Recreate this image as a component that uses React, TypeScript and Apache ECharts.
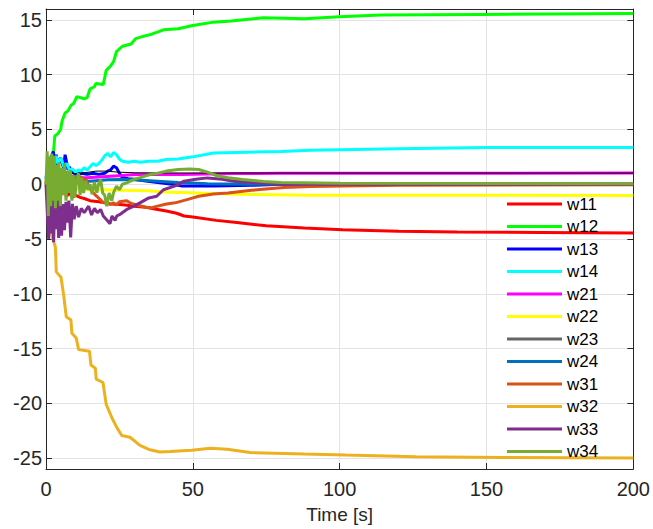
import React, { useEffect, useRef } from "react";
import * as echarts from "echarts";

const seriesNames = ["w11", "w12", "w13", "w14", "w21", "w22", "w23", "w24", "w31", "w32", "w33", "w34"];
const seriesColors = ["#ff0000", "#00ff00", "#0000ff", "#00ffff", "#ff00ff", "#ffff00", "#000000", "#0072bd", "#d95319", "#edb120", "#7e2f8e", "#77ac30"];

const xTicks = [0, 50, 100, 150, 200];
const yTicks = [-25, -20, -15, -10, -5, 0, 5, 10, 15];

const w11 = [[0,0],[1,-0.5],[2,-0.2],[3,-0.8],[4,-0.4],[5,-1.0],[6,-0.6],[7,-1.1],[8,-0.8],[9,-1.2],[10,-1.0],[11.6,-1.2],[13,-1.3],[15,-1.5],[18,-1.6],[20,-1.7],[22,-1.8],[24,-1.83],[27,-1.9],[30,-2.0],[34,-2.1],[38,-2.3],[41,-2.45],[44.5,-2.65],[47,-2.9],[50,-3.0],[58,-3.3],[65,-3.5],[75,-3.8],[88,-4.0],[101,-4.15],[120,-4.3],[140,-4.35],[168,-4.4],[200,-4.45]];
const w12 = [[0,0],[1,1.5],[2,2.5],[2.6,3.1],[3,4.4],[4,4.6],[5,5.0],[5.5,5.8],[6.5,6.5],[7.5,6.7],[8.5,7.2],[9.5,7.4],[10.5,8.0],[13,7.8],[14,7.9],[15,8.7],[16.5,8.9],[17,9.2],[19.5,9.1],[20.5,10.4],[22,10.8],[23,11.2],[24,12.1],[26,12.6],[29,12.8],[30.5,13.3],[33,13.5],[36,13.7],[40,14.1],[45,14.2],[50,14.5],[57,14.8],[63,14.9],[74,15.2],[88,15.1],[100,15.3],[114,15.45],[148,15.5],[200,15.6]];
const w13 = [[0,0.5],[0.5,1.2],[1,0.8],[1.5,2.0],[2,2.6],[2.5,3.0],[3,1.8],[3.5,2.7],[4,1.5],[4.5,2.2],[5,2.4],[5.5,1.9],[6,1.5],[6.5,2.7],[7,2.0],[7.5,1.3],[8,1.6],[8.5,1.0],[9,1.2],[10,0.9],[12,1.0],[14,0.9],[16,1.0],[18,0.9],[20,1.0],[21,1.2],[22,1.3],[23,1.65],[24,1.5],[25,1.0],[26,0.6],[28,0.5],[30,0.45],[34,0.3],[38,0.15],[43,0],[46,-0.15],[57,-0.15],[70,-0.1],[80,0],[200,0]];
const w14 = [[0,0.5],[0.5,1.5],[1,2.6],[1.5,1.8],[2,2.4],[2.5,1.2],[3,2.0],[3.5,2.6],[4,1.9],[5,2.4],[5.5,2.1],[6,1.6],[7,1.9],[8,1.3],[9,1.4],[10,1.1],[11,1.3],[12,1.2],[13,1.5],[14,1.3],[15,1.6],[16,1.9],[17,1.7],[18,1.9],[19,2.2],[20,2.6],[21,2.8],[22,2.5],[23,2.9],[24,2.7],[25,2.3],[26,2.1],[28,2.0],[30,2.1],[32,2.0],[35,2.1],[38,2.1],[41,2.25],[45,2.3],[50,2.5],[57,2.85],[65,2.9],[80,3.0],[90,3.1],[100,3.15],[120,3.25],[150,3.35],[200,3.35]];
const w21 = [[0,0.3],[2,0.5],[4,0.4],[6,0.6],[8,0.5],[10,0.6],[14,0.6],[18,0.65],[22,0.73],[26,0.8],[30,0.88],[40,0.9],[46,0.9],[64,0.97],[80,1.0],[200,1.02]];
const w22 = [[0,0],[2,-0.3],[5,-0.2],[10,-0.4],[15,-0.5],[19.6,-0.5],[25,-0.55],[35,-0.6],[40,-0.7],[52,-0.8],[69,-0.93],[90,-1.0],[200,-1.02]];
const w23 = [[0,0],[2,0.5],[4,0.8],[6,0.9],[8,0.95],[12,1.0],[17,1.2],[20,1.2],[25,1.1],[30,1.05],[40,1.03],[60,1.02],[200,1.02]];
const w24 = [[0,0.1],[1,0.3],[2,0.2],[4,0.5],[6,0.4],[8,0.6],[10,0.4],[12,0.3],[15,0.28],[18,0.35],[21,0.4],[25,0.43],[30,0.4],[38,0.28],[45,0.15],[55,0.05],[70,0],[200,0]];
const w31 = [[0,0],[0.5,1.5],[1,0.5],[1.5,1.9],[2,0.2],[2.5,1.0],[3,0.8],[3.5,-0.5],[4,0.9],[4.5,0.7],[5,1.0],[5.5,0.2],[6,1.0],[6.5,0.8],[7,-0.3],[7.5,0.9],[8,0.7],[8.5,-0.2],[9,0.8],[9.5,0.5],[10,0.7],[11,0.6],[12,0.7],[12.8,0.1],[13.5,0.5],[14.5,-0.2],[15.5,-0.6],[16.5,-0.9],[17.3,-1.1],[18.5,-1.4],[19.6,-1.7],[20.5,-1.6],[21.8,-1.85],[23,-1.7],[24,-1.9],[25,-1.6],[27.5,-1.5],[29,-1.75],[31,-1.9],[34,-2.1],[36,-2.15],[38,-2.0],[41,-1.8],[44,-1.7],[48,-1.4],[52,-1.1],[57,-0.9],[62,-0.8],[70,-0.55],[81,-0.3],[90,-0.2],[101,-0.15],[120,-0.1],[200,-0.05]];
const w32 = [[0,0],[1,-2],[2,-4.7],[3.2,-5.75],[3.5,-8.0],[5.1,-8.5],[6,-10.1],[6.9,-12.1],[8.5,-12.4],[8.8,-13.6],[10.3,-14.05],[11.1,-15.1],[14.8,-15.25],[15.3,-16.5],[16.8,-16.8],[17.1,-17.8],[19.4,-18.1],[20.5,-20.1],[22.4,-21.3],[24.1,-22.2],[25.8,-22.95],[28.6,-23.1],[32,-23.85],[35.4,-24.25],[38.8,-24.45],[42.2,-24.4],[49.6,-24.28],[56,-24.1],[61.7,-24.2],[69.5,-24.5],[88,-24.64],[102,-24.73],[126,-24.88],[155,-24.94],[200,-25]];
const w33 = [[0,0],[0.5,-3.0],[0.9,-5.0],[1.3,-1.5],[1.8,-4.5],[2.2,-1.2],[2.6,-5.3],[3.0,-1.5],[3.4,-4.1],[3.8,-1.0],[4.3,-4.9],[4.8,-1.3],[5.3,-4.7],[5.8,-1.8],[6.3,-4.2],[6.8,-1.6],[7.3,-3.5],[7.8,-1.5],[8.4,-4.85],[9,-1.8],[9.6,-3.2],[10.3,-2.0],[11.1,-3.0],[12,-2.2],[13,-2.6],[14.5,-2.0],[15.5,-2.8],[16.5,-2.2],[17.5,-2.6],[18.6,-2.3],[19.5,-2.9],[20.5,-3.2],[21.8,-3.6],[22.5,-2.9],[23.5,-3.3],[24.1,-2.9],[25.5,-2.7],[27.5,-2.3],[30,-2.0],[32,-1.7],[35,-1.25],[37.7,-1.1],[40,-0.5],[44.5,-0.1],[47,0.28],[51,0.45],[55,0.58],[60,0.45],[64,0.28],[70,0.15],[81,0],[200,0]];
const w34 = [[0,0],[0.4,3.0],[0.8,-2.9],[1.2,2.5],[1.6,-2.0],[2.0,2.8],[2.4,-1.5],[2.8,2.6],[3.2,-2.2],[3.6,1.8],[4.0,-1.5],[4.4,2.0],[4.9,-2.0],[5.3,1.5],[5.8,-1.0],[6.3,1.9],[6.8,-1.5],[7.3,1.2],[7.8,-0.8],[8.3,1.3],[8.8,-1.5],[9.3,0.8],[9.8,-1.2],[10.5,0.5],[11.1,1.0],[11.6,-1.0],[12.2,0.6],[12.8,-0.8],[13.5,0.3],[14.2,-0.5],[15,0],[15.7,-0.9],[16.5,0.2],[17.3,-0.77],[18,0.1],[18.6,0.43],[19.3,-0.8],[20,-1.0],[20.7,-2.0],[21.5,-0.8],[22.4,-1.5],[23,-0.77],[24,-0.17],[25,-0.5],[26,0.0],[27.5,0.13],[29.8,0.43],[32,0.6],[35.4,0.88],[38,1.0],[41,1.2],[45,1.35],[49,1.4],[52,1.35],[55,1.1],[58,0.8],[62,0.6],[67,0.43],[74,0.25],[80,0.15],[100,0.1],[200,0.05]];

const seriesData = [w11, w12, w13, w14, w21, w22, w23, w24, w31, w32, w33, w34];

const FONT = "'Liberation Sans', Arial, Helvetica, sans-serif";
const AXIS_COLOR = "#262626";

export default function App() {
  const ref = useRef<HTMLDivElement>(null);
  useEffect(() => {
    if (!ref.current) return;
    const chart = echarts.init(ref.current, null, { renderer: "svg" });
    const axisLine = { show: true, onZero: false, lineStyle: { color: AXIS_COLOR, width: 1 } };
    chart.setOption({
      animation: false,
      backgroundColor: "#ffffff",
      grid: { left: 46, right: 19, top: 9, bottom: 57, containLabel: false },
      legend: {
        orient: "vertical",
        left: 507,
        top: 194,
        padding: 0,
        icon: "rect",
        itemWidth: 55,
        itemHeight: 3,
        itemGap: 2.5,
        selectedMode: false,
        textStyle: { fontFamily: FONT, fontSize: 17, lineHeight: 20, color: "#000" },
        data: seriesNames.map((n) =>
          n === "w23" ? { name: n, itemStyle: { color: "#666666" } } : { name: n }
        ),
      },
      xAxis: [
        {
          type: "value",
          min: 0,
          max: 200,
          interval: 50,
          position: "bottom",
          name: "Time [s]",
          nameLocation: "middle",
          nameGap: 36,
          nameTextStyle: { fontFamily: FONT, fontSize: 19, color: AXIS_COLOR },
          axisLine,
          axisTick: { show: true, inside: true, length: 6, lineStyle: { color: AXIS_COLOR } },
          axisLabel: { fontFamily: FONT, fontSize: 20, color: AXIS_COLOR, margin: 10, customValues: xTicks },
          splitLine: { show: true, lineStyle: { color: "#e3e3e3", width: 1 } },
        },
        {
          type: "value",
          min: 0,
          max: 200,
          interval: 50,
          position: "top",
          axisLine,
          axisTick: { show: true, inside: true, length: 6, lineStyle: { color: AXIS_COLOR } },
          axisLabel: { show: false },
          splitLine: { show: false },
        },
      ],
      yAxis: [
        {
          type: "value",
          min: -26,
          max: 16,
          position: "left",
          axisLine,
          axisTick: { show: true, inside: true, length: 6, customValues: yTicks, lineStyle: { color: AXIS_COLOR } },
          axisLabel: { fontFamily: FONT, fontSize: 20, color: AXIS_COLOR, margin: 4, customValues: yTicks },
          splitLine: { show: true, lineStyle: { color: "#e3e3e3", width: 1 } },
        },
        {
          type: "value",
          min: -26,
          max: 16,
          position: "right",
          axisLine,
          axisTick: { show: true, inside: true, length: 6, customValues: yTicks, lineStyle: { color: AXIS_COLOR } },
          axisLabel: { show: false },
          splitLine: { show: false },
        },
      ],
      series: seriesNames.map((n, i) => ({
        name: n,
        type: "line",
        xAxisIndex: 0,
        yAxisIndex: 0,
        data: seriesData[i],
        showSymbol: false,
        symbol: "none",
        silent: true,
        color: seriesColors[i],
        lineStyle: { color: seriesColors[i], width: n === "w23" ? 1 : 3 },
      })),
    });
    return () => chart.dispose();
  }, []);
  return <div ref={ref} style={{ width: 653, height: 529, position: "absolute", left: 0, top: 0 }} />;
}
